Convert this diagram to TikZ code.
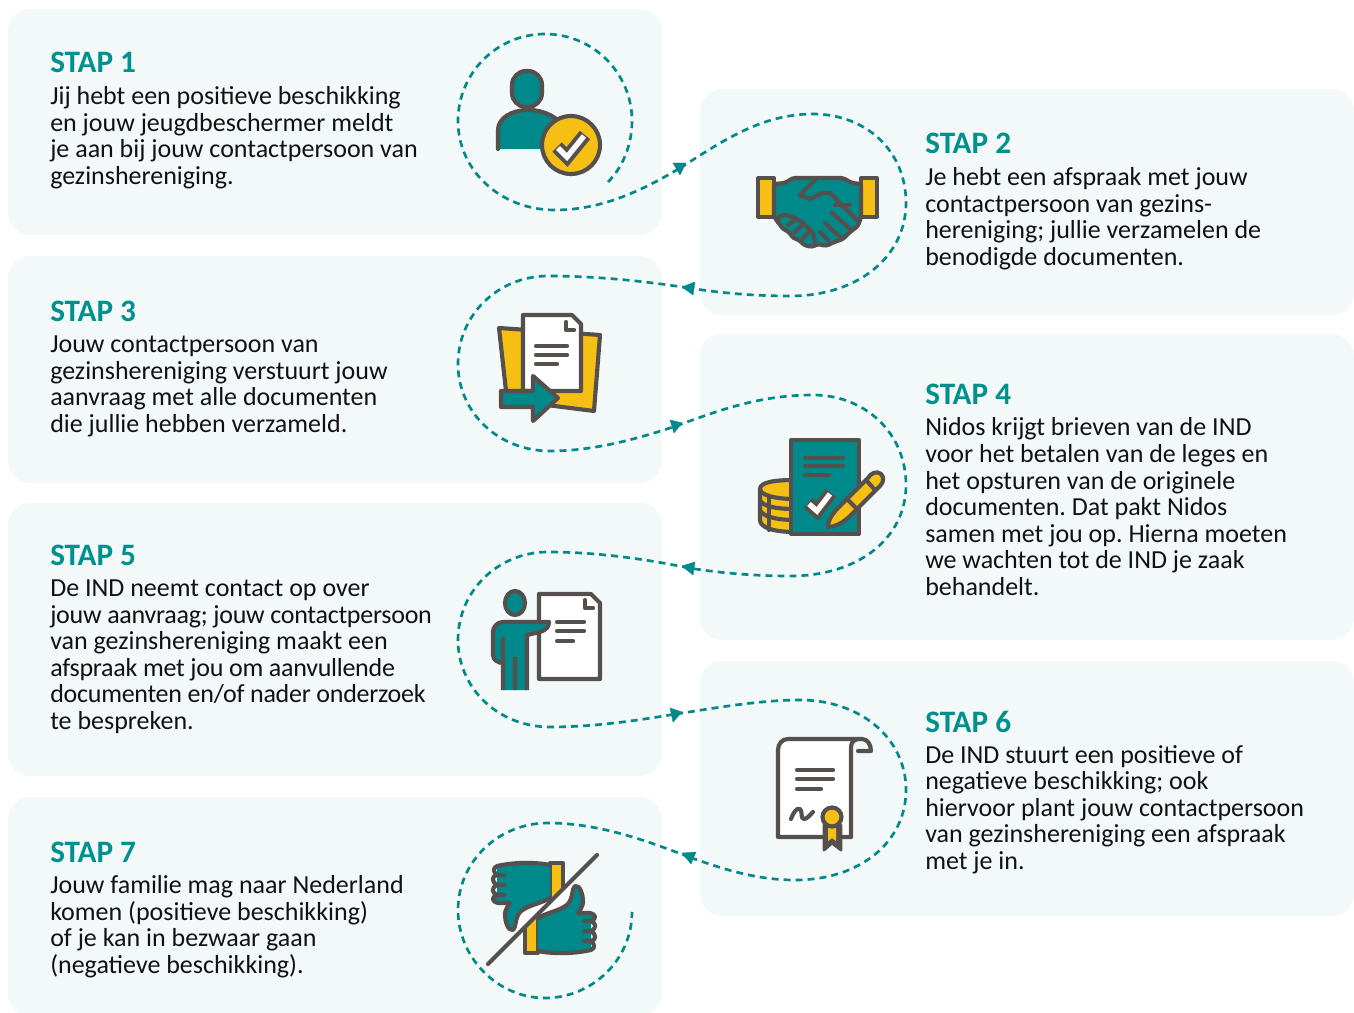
\documentclass[tikz,border=0pt]{standalone}
\usepackage{fontspec}
\setmainfont{Carlito}
\definecolor{panelbg}{HTML}{F3F8F8}
\definecolor{tealc}{HTML}{00898A}
\definecolor{headc}{HTML}{00918E}
\definecolor{ink}{HTML}{55504D}
\definecolor{yel}{HTML}{F6BF13}
\definecolor{bodyc}{HTML}{111111}
\newcommand{\tightline}[1]{{\addfontfeature{LetterSpace=-1}#1}}
\tikzset{
  panel/.style={fill=panelbg,draw=none,rounded corners=16.5pt},
  stephead/.style={anchor=base west,inner sep=0pt,text=headc,font=\fontsize{23.4}{25}\selectfont\bfseries},
  stepbody/.style={anchor=base west,inner sep=0pt,align=left,text=bodyc,font=\fontsize{19.5}{19.95}\selectfont\frenchspacing},
  route/.style={draw=tealc,line width=2pt,dash pattern=on 5.2pt off 3.8pt},
  arrowtri/.style={fill=tealc,draw=tealc,line width=0.3pt,line join=round},
  ico/.style={draw=ink,line width=3.1pt,line join=round,line cap=round},
  icof/.style={ico,fill=#1},
  txl/.style={draw=ink,line width=3.1pt,line cap=round},
}
\newcommand{\thumbicon}{%
  \path[fill=yel] (550,863) -- (563,863) -- (563,887) -- (550,899) -- cycle;
  \draw[ico] (550,899) -- (550,863) -- (563,863) -- (563,887);
  \path[fill=tealc] (497,866) .. controls (515,862) and (535,862) .. (550,865) -- (550,898) .. controls (540,904) and (528,905) .. (520,912) .. controls (515,918) and (516,928) .. (513,930) .. controls (508,931) and (505,922) .. (505,914) .. controls (505,910) and (508,906) .. (510,903) -- (498,903) .. controls (492,902) and (492,894) .. (497,892) -- (497,866) -- cycle;
  \path[fill=white] (550,898) .. controls (540,904) and (528,905) .. (520,912) .. controls (515,918) and (516,928) .. (513,930) -- (522,930) -- (552,900) -- cycle;
  \draw[ico] (550,865) .. controls (535,862) and (515,862) .. (497,866) .. controls (492,868) and (494,873) .. (497,875) -- (504,875) (504,885) -- (497,885) .. controls (491,881) and (492,876) .. (497,875) (497,885) .. controls (491,888) and (492,893) .. (497,895) -- (504,895) (497,895) .. controls (491,897) and (492,902) .. (498,903) -- (510,903) .. controls (508,906) and (505,910) .. (505,914) .. controls (505,922) and (508,931) .. (513,930) .. controls (516,928) and (515,918) .. (520,912) .. controls (528,905) and (540,904) .. (550,898);
}
\begin{document}
\begin{tikzpicture}[x=0.75pt,y=-0.75pt]
\useasboundingbox (0,0) rectangle (1354,1013);
% panels
\path[panel] (8,9) rectangle (662,235);
\path[panel] (700,89) rectangle (1354,315);
\path[panel] (8,256) rectangle (662,483);
\path[panel] (700,334) rectangle (1354,640);
\path[panel] (8,503) rectangle (662,776);
\path[panel] (700,661) rectangle (1354,916);
\begin{scope}
\clip (0,0) rectangle (1354,1013);
\path[panel] (8,797) rectangle (662,1016);
\end{scope}
% text
\node[stephead] (h1) at (50,73) {STAP 1};
\node[stepbody] (b1) at (50,184.5) {Jij hebt een positieve beschikking\\en jouw jeugdbeschermer meldt\\je aan bij jouw contactpersoon van\\gezinshereniging.};
\node[stephead] (h2) at (925,154) {STAP 2};
\node[stepbody] (b2) at (925,265.5) {Je hebt een afspraak met jouw\\contactpersoon van gezins-\\hereniging; jullie verzamelen de\\benodigde documenten.};
\node[stephead] (h3) at (50,321) {STAP 3};
\node[stepbody] (b3) at (50,432.5) {Jouw contactpersoon van\\gezinshereniging verstuurt jouw\\aanvraag met alle documenten\\die jullie hebben verzameld.};
\node[stephead] (h4) at (925,404) {STAP 4};
\node[stepbody] (b4) at (925,595.5) {Nidos krijgt brieven van de IND\\voor het betalen van de leges en\\het opsturen van de originele\\documenten. Dat pakt Nidos\\samen met jou op. Hierna moeten\\we wachten tot de IND je zaak\\behandelt.};
\node[stephead] (h5) at (50,565) {STAP 5};
\node[stepbody] (b5) at (50,729.5) {De IND neemt contact op over\\\tightline{jouw aanvraag; jouw contactpersoon}\\van gezinshereniging maakt een\\\tightline{afspraak met jou om aanvullende}\\\tightline{documenten en/of nader onderzoek}\\te bespreken.};
\node[stephead] (h6) at (925,732) {STAP 6};
\node[stepbody] (b6) at (925,869.5) {De IND stuurt een positieve of\\negatieve beschikking; ook\\hiervoor plant jouw contactpersoon\\van gezinshereniging een afspraak\\met je in.};
\node[stephead] (h7) at (50,862) {STAP 7};
\node[stepbody] (b7) at (50,973.5) {Jouw familie mag naar Nederland\\komen (positieve beschikking)\\of je kan in bezwaar gaan\\(negatieve beschikking).};
% route anchors
\coordinate (r0) at (608,182);
\coordinate (a1) at (680,168);
\coordinate (a2) at (689,288);
\coordinate (a3) at (676,426);
\coordinate (a4) at (689,568);
\coordinate (a5) at (676,714);
\coordinate (a6) at (689,857);
\coordinate (r7) at (632,912);
% routes
\draw[route] (r0) .. controls (622,168) and (632,146) .. (632,121) .. controls (632,73) and (593,34) .. (545,34) .. controls (497,34) and (458,73) .. (458,121) .. controls (458,170) and (500,210) .. (555,210) .. controls (600,210) and (640,192) .. (a1);
\draw[route] (a1) .. controls (720,143) and (760,114) .. (813,114) .. controls (865,114) and (906,150) .. (906,203) .. controls (906,255) and (860,296) .. (790,296) .. controls (755,296) and (720,293) .. (a2);
\draw[route] (a2) .. controls (650,282) and (600,276) .. (548,276) .. controls (498,276) and (458,315) .. (458,364) .. controls (458,412) and (498,451) .. (550,451) .. controls (595,451) and (640,438) .. (a3);
\draw[route] (a3) .. controls (720,410) and (760,395) .. (813,395) .. controls (865,395) and (906,433) .. (906,485) .. controls (906,537) and (860,576) .. (790,576) .. controls (755,576) and (720,573) .. (a4);
\draw[route] (a4) .. controls (650,560) and (600,552) .. (548,552) .. controls (498,552) and (458,591) .. (458,640) .. controls (458,688) and (498,727) .. (550,727) .. controls (595,727) and (640,720) .. (a5);
\draw[route] (a5) .. controls (715,708) and (760,700) .. (800,700) .. controls (860,700) and (906,738) .. (906,790) .. controls (906,842) and (860,880) .. (795,880) .. controls (755,880) and (720,868) .. (a6);
\draw[route] (a6) .. controls (650,842) and (600,823) .. (548,823) .. controls (498,823) and (458,862) .. (458,910) .. controls (458,958) and (498,998) .. (545,998) .. controls (592,998) and (632,960) .. (r7);
% arrowheads
\fill[arrowtri] (673,163) -- (686,163) -- (680,175) -- cycle;
\fill[arrowtri] (682,287) -- (695,282) -- (693,295) -- cycle;
\fill[arrowtri] (670,420) -- (682,423) -- (674,433) -- cycle;
\fill[arrowtri] (682,566) -- (695,562) -- (693,575) -- cycle;
\fill[arrowtri] (670,708) -- (682,712) -- (673,722) -- cycle;
\fill[arrowtri] (682,853) -- (696,852) -- (691,864) -- cycle;
% ---- icon 1
\path[fill=tealc] (498,149) -- (498,130) .. controls (498,118) and (512,110) .. (528,110) .. controls (545,110) and (560,118) .. (565,130) -- (565,149) -- cycle;
\draw[ico] (498,149) -- (498,130) .. controls (498,118) and (512,110) .. (528,110) .. controls (545,110) and (560,118) .. (565,130);
\draw[icof=tealc,rounded corners=10.5pt] (512,71) rectangle (542,107);
\draw[icof=yel] (571,145) circle (29);
\draw[ink,line width=10pt,line join=miter] (557,147) -- (567,157) -- (585,135);
\draw[white,line width=4pt,line join=miter] (558,148) -- (567,157) -- (584,136);
% ---- icon 2
\draw[icof=yel] (758,178) rectangle (774,217);
\draw[icof=yel] (861,178) rectangle (877,217);
\draw[icof=tealc,rounded corners=2pt] (774,184) -- (785,183) -- (793,178) -- (843,178) -- (852,183) -- (861,184) -- (861,217) -- (858,226) -- (850,232) -- (843,239) -- (832,243) -- (826,246) -- (818,244) -- (812,247) -- (804,245) -- (799,240) -- (793,238) -- (789,232) -- (783,229) -- (778,222) -- (774,217) -- cycle;
\draw[ico] (817,178) -- (800,195) -- (810,199) -- (822,193) -- (830,193) -- (857,220);
\draw[ico] (835,205) -- (850,205);
\draw[ico] (832,213) -- (850,229) (825,223) -- (840,237) (820,232) -- (828,240);
\draw[ico] (778,222) .. controls (777,217) and (781,215) .. (785,215) -- (793,217) -- (802,222) -- (813,233) -- (815,242);
\draw[ico] (788,225) -- (794,220) (795,232) -- (801,226) (802,239) -- (808,233);
% ---- icon 3
\draw[icof=yel] (499,328) -- (600,335) -- (594,411) -- (507,400) -- cycle;
\draw[icof=white] (523,315) -- (572,315) -- (581,324) -- (581,391) -- (523,391) -- cycle;
\draw[ico] (566,322) -- (566,330) -- (574,330);
\draw[txl] (536,346) -- (567,346) (536,355) -- (567,355) (536,364) -- (557,364);
\draw[icof=tealc] (501,391) -- (533,391) -- (533,376) -- (558,398) -- (533,421) -- (533,407) -- (501,407) -- cycle;
% ---- icon 4
\path[fill=yel] (760,489) .. controls (760,482) and (775,480) .. (795,480) -- (795,532) .. controls (775,532) and (760,528) .. (760,520) -- cycle;
\draw[ico] (795,480) .. controls (775,480) and (760,482) .. (760,489) -- (760,520) .. controls (760,528) and (775,532) .. (795,532);
\draw[ico] (760,489) .. controls (760,495) and (775,499) .. (795,499);
\draw[ico] (760,500) .. controls (762,506) and (775,509) .. (795,509);
\draw[ico] (760,510) .. controls (762,516) and (775,520) .. (795,520);
\draw[ico] (769,497) -- (769,530);
\draw[icof=tealc] (791,440) rectangle (859,534);
\draw[txl] (805,458) -- (843,458) (805,466) -- (843,466) (805,475) -- (829,475);
\draw[ink,line width=10pt,line join=miter] (808,503) -- (817,511) -- (831,493);
\draw[white,line width=4pt,line join=miter] (809,504) -- (817,511) -- (830,494);
\draw[icof=yel] (828,527) .. controls (828,520) and (832,515) .. (836,510) -- (868,478) .. controls (872,472) and (877,471) .. (881,474) .. controls (884,477) and (884,482) .. (880,486) -- (848,518) .. controls (842,523) and (835,527) .. cycle;
\draw[ico] (847,499) -- (855,507) (866,480) -- (875,490);
% ---- icon 5
\draw[icof=white] (539,594) -- (591,594) -- (600,603) -- (600,679) -- (539,679) -- cycle;
\draw[ico] (585,600) -- (585,608) -- (593,608);
\draw[txl] (557,622) -- (584,622) (557,631) -- (584,631) (557,641) -- (573,641);
\path[fill=tealc] (549,622) -- (503,622) .. controls (497,622) and (493,627) .. (493,632) -- (493,655) .. controls (493,660) and (498,663) .. (503,663) -- (503,690) -- (527,690) -- (527,635) -- (540,632) .. controls (546,630) and (549,627) .. (549,622) -- cycle;
\draw[ico] (549,622) -- (503,622) .. controls (497,622) and (493,627) .. (493,632) -- (493,655) .. controls (493,660) and (498,663) .. (503,663);
\draw[ico,line cap=butt] (503,637) -- (503,690) (515,657) -- (515,690) (527,690) -- (527,635) -- (540,632) .. controls (546,630) and (549,627) .. (549,622);
\draw[icof=tealc] (515,603) ellipse (10 and 12);
% ---- icon 6
\path[fill=white] (778,837) -- (778,750) .. controls (778,744) and (782,739) .. (788,739) -- (851,739) -- (851,837) -- cycle;
\draw[ico] (851,837) -- (778,837) -- (778,750) .. controls (778,744) and (782,739) .. (788,739) -- (862,739) .. controls (867,739) and (871,744) .. (871,751) -- (858,751);
\draw[ico] (858,739) .. controls (853,740) and (851,743) .. (851,748) -- (851,837);
\draw[txl] (797,770) -- (833,770) (797,779) -- (833,779) (797,789) -- (821,789);
\draw[ico] (791,819) .. controls (793,813) and (797,807) .. (800,809) .. controls (803,811) and (800,819) .. (804,819) .. controls (807,819) and (810,815) .. (813,812);
\path[fill=ink] (824,825) -- (841,825) -- (841,850) -- (832,843) -- (824,850) -- cycle;
\draw[ink,line width=2.2pt,line join=round] (824,825) -- (841,825) -- (841,850) -- (832,843) -- (824,850) -- cycle;
\path[fill=yel] (828,828) -- (836,828) -- (836,841) -- (832,838) -- (828,841) -- cycle;
\draw[icof=yel] (832,817) circle (9.5);
% ---- icon 7
\thumbicon
\begin{scope}[shift={(1088,1816)},xscale=-1,yscale=-1]
\thumbicon
\end{scope}
\draw[ico] (488,964) -- (597,855);
\end{tikzpicture}
\end{document}
